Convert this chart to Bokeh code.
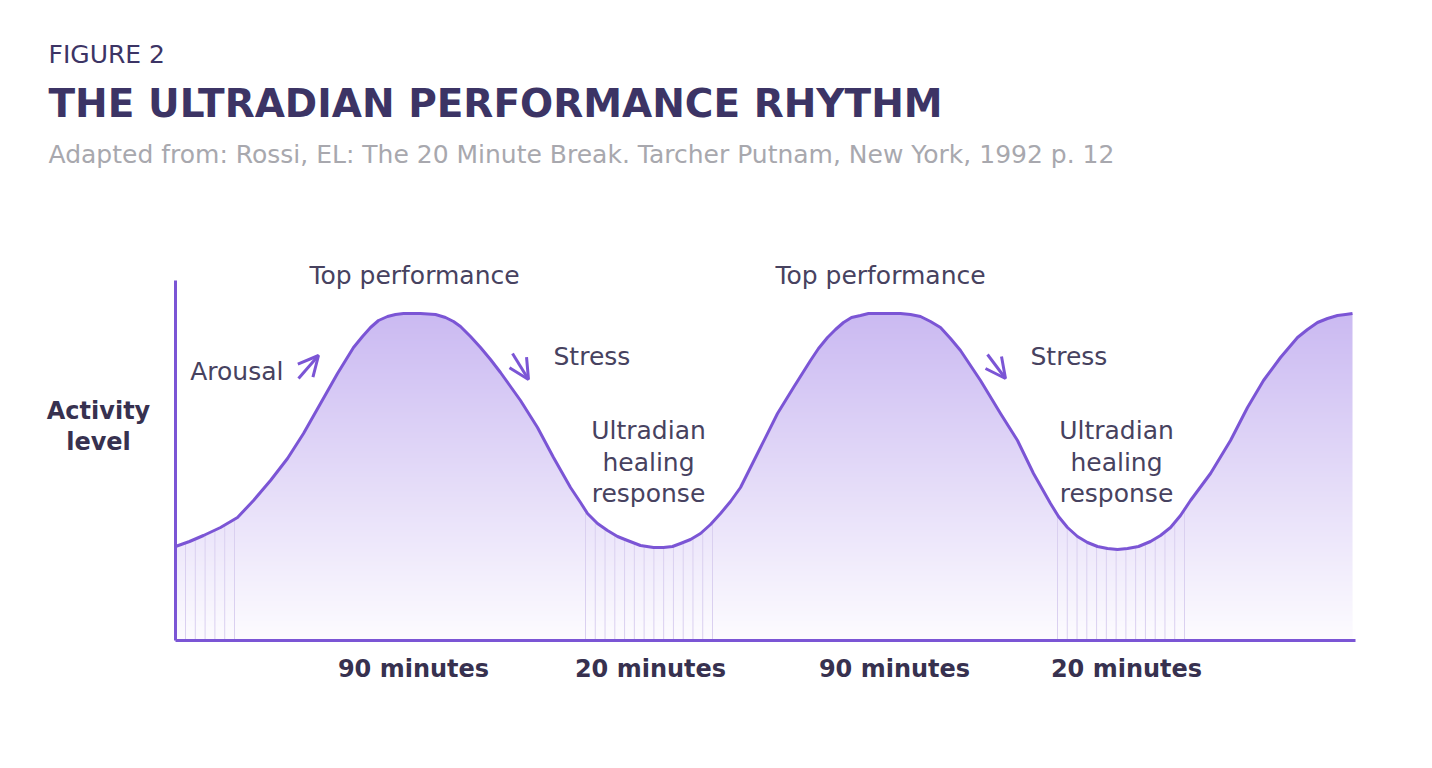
import numpy as np
from bokeh.plotting import figure
from bokeh.models import Range1d, FixedTicker, Label, Arrow, OpenHead
from bokeh.embed import file_html
from bokeh.resources import INLINE

# ---------------- data (time units, activity level) ----------------
t = [0, 14, 28, 45, 62, 78, 95, 112, 128, 145, 162, 178, 187, 195, 203, 212, 220, 228,
     245, 260, 270, 278, 285, 295, 305, 315, 325, 335, 345, 362, 378, 395, 405, 412,
     422, 432, 442, 452, 465, 478, 488, 497, 505, 515, 525, 535, 545, 555, 565, 575,
     585, 602, 618, 635, 643, 652, 660, 668, 676, 685, 693, 702, 725, 735, 745, 755,
     765, 775, 785, 795, 805, 825, 842, 858, 875, 883, 892, 902, 912, 922, 932, 942,
     952, 963, 975, 985, 995, 1005, 1015, 1035, 1055, 1072, 1088, 1105, 1122, 1132,
     1142, 1152, 1162, 1170, 1177]
level = [94, 99, 105, 113, 123, 140, 160, 182, 207, 237, 267, 293, 304, 313, 320, 324, 326, 327,
         327, 326, 323, 319, 314, 304, 293, 281, 268, 254, 240, 213, 183, 153, 138, 127,
         117, 110, 104, 100, 95, 93, 93, 94, 97, 101, 107, 116, 127, 139, 153, 173,
         193, 227, 253, 280, 292, 303, 311, 318, 323, 325, 327, 327, 327, 326, 324, 319,
         313, 302, 290, 275, 260, 227, 200, 167, 137, 124, 113, 104, 98, 94, 92, 91,
         92, 94, 99, 105, 113, 125, 140, 167, 200, 233, 260, 283, 303, 311,
         318, 322, 325, 326, 327]

rest_zone_start = [10, 410, 882]
rest_zone_end = [59, 537, 1009]
rest_zone_lines = [6, 14, 14]

duration_labels = ["90 minutes", "20 minutes", "90 minutes", "20 minutes"]
duration_pos = [238, 475, 719, 951]

peak_label = "Top performance"
peak_pos = [239, 705]
stress_pos = [378, 855]
healing_lines = ["Ultradian", "healing", "response"]
healing_pos = [473, 941]

title_small = "FIGURE 2"
title_main = "THE ULTRADIAN PERFORMANCE RHYTHM"
subtitle = "Adapted from: Rossi, EL: The 20 Minute Break. Tarcher Putnam, New York, 1992 p. 12"

# ---------------- styles ----------------
PURPLE = "#7b55d5"
DARK = "#3c3465"
TXT = "#47425f"
BOLDTXT = "#37314f"
GREY = "#a8a8ae"
FONT = "DejaVu Sans"

W, H = 1424, 760
AX_W, AX_H = 1180, 360      # axis extents
X0, Y0 = 175, 640           # where the axes meet, measured from top-left of canvas

p = figure(width=W, height=H, output_backend="svg", toolbar_location=None,
           x_range=Range1d(-X0, W - X0), y_range=Range1d(Y0 - H, Y0),
           min_border=0, x_axis_location="below", y_axis_location="left")
p.outline_line_color = None
p.background_fill_color = "white"
p.border_fill_color = "white"
p.grid.visible = False
p.xaxis[0].fixed_location = 0
p.xaxis[0].bounds = (0, AX_W)
p.yaxis[0].fixed_location = 0
p.yaxis[0].bounds = (0, AX_H)
for ax in (p.xaxis[0], p.yaxis[0]):
    ax.ticker = FixedTicker(ticks=[])
    ax.major_tick_line_color = None
    ax.minor_tick_line_color = None
    ax.major_label_text_font_size = "0px"
    ax.axis_line_color = PURPLE
    ax.axis_line_width = 3
    ax.level = "overlay"

tx = np.array(t, dtype=float)
ly = np.array(level, dtype=float)
top = ly.max()

# vertical gradient fill (drawn under everything, masked above the curve)
n = int(top)
c_top = np.array([0xcb, 0xba, 0xf2])
c_bot = np.array([0xfd, 0xfc, 0xff])
frac = np.linspace(0, 1, n)[:, None]
cols = (c_bot * (1 - frac) + c_top * frac).astype(np.uint32)
img = np.zeros((n, 1), dtype=np.uint32)
view = img.view(dtype=np.uint8).reshape((n, 1, 4))
view[:, :, 0] = cols[:, 0:1]
view[:, :, 1] = cols[:, 1:2]
view[:, :, 2] = cols[:, 2:3]
view[:, :, 3] = 255
p.image_rgba(image=[img], x=0, y=0, dw=tx.max(), dh=top)

# white mask above the curve
p.varea(x=tx, y1=ly, y2=AX_H + 5, fill_color="white")

# thin vertical lines in rest zones
xs, ys = [], []
for s, e, k in zip(rest_zone_start, rest_zone_end, rest_zone_lines):
    for xv in np.linspace(s, e, k):
        xs.append(xv)
        ys.append(np.interp(xv, tx, ly))
p.segment(x0=xs, y0=0, x1=xs, y1=ys, line_color="#dad0f0", line_width=1)

# curve
p.line(tx, ly, line_color=PURPLE, line_width=3, line_join="round")

# arrows
for (x0, y0, x1, y1) in [(123, 262, 143, 285), (337, 287, 353, 261), (812, 286, 830, 262)]:
    p.add_layout(Arrow(end=OpenHead(size=20, line_color=PURPLE, line_width=3),
                       x_start=x0, y_start=y0, x_end=x1, y_end=y1,
                       line_color=PURPLE, line_width=3))


def lab(x, y, text, size, color, bold=False, align="center"):
    p.add_layout(Label(x=x, y=y, text=text, text_font=FONT, text_font_size=size,
                       text_color=color, text_font_style="bold" if bold else "normal",
                       text_align=align, text_baseline="middle"))


# titles
lab(-127, 586, title_small, "25px", DARK, bold=False, align="left")
lab(-127, 537, title_main, "39px", DARK, bold=True, align="left")
lab(-127, 486, subtitle, "25px", GREY, align="left")

# annotations
for px_ in peak_pos:
    lab(px_, 365, peak_label, "25px", TXT)
lab(108, 269, "Arousal", "25px", TXT, align="right")
for sx in stress_pos:
    lab(sx, 284, "Stress", "25px", TXT, align="left")
for hx in healing_pos:
    for i, line in enumerate(healing_lines):
        lab(hx, 210 - 31.5 * i, line, "25px", TXT)
lab(-77, 230, "Activity", "24px", BOLDTXT, bold=True)
lab(-77, 199, "level", "24px", BOLDTXT, bold=True)
for dx, dl in zip(duration_pos, duration_labels):
    lab(dx, -28, dl, "24px", BOLDTXT, bold=True)

open("out.html", "w").write(file_html(p, INLINE))
